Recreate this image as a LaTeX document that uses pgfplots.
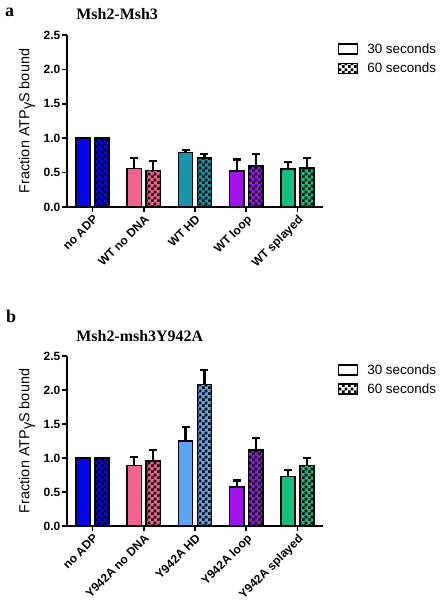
\documentclass[border=0pt]{standalone}
\usepackage{pgfplots}
\pgfplotsset{compat=1.18}
\usepackage{fontspec}
\setmainfont{Liberation Sans}
\newfontfamily\timesf{Liberation Serif}
\usetikzlibrary{patterns}
\pgfdeclarepatternformonly{bigcheck}{\pgfpointorigin}{\pgfqpoint{5.6bp}{5.6bp}}{\pgfqpoint{5.6bp}{5.6bp}}{%
 \pgfpathrectangle{\pgfpointorigin}{\pgfqpoint{2.85bp}{2.85bp}}%
 \pgfpathrectangle{\pgfqpoint{2.8bp}{2.8bp}}{\pgfqpoint{2.85bp}{2.85bp}}%
 \pgfusepath{fill}}
\definecolor{cblue}{HTML}{0505F0}
\definecolor{cpink}{HTML}{F2628E}
\definecolor{cteal}{HTML}{1A94AA}
\definecolor{cltblue}{HTML}{5AA5F5}
\definecolor{cpurple}{HTML}{A012F0}
\definecolor{cgreen}{HTML}{14C07E}

\pgfplotsset{
 every error bar/.append style={line width=2.2bp, black},
 mystyle/.style={
 scale only axis, width=256bp,
 xmin=-0.5, xmax=4.5, ymin=0, ymax=2.5,
 axis lines=left, axis line style={line width=1.6bp, -},
 ytick={0,0.5,1,1.5,2,2.5}, yticklabels={0.0,0.5,1.0,1.5,2.0,2.5},
 xtick={0,1,2,3,4},
 tick style={line width=1.6bp, black},
 major tick length=5bp, tick align=outside,
 tick label style={font=\bfseries\fontsize{12}{12}\selectfont},
 yticklabel style={inner sep=1.5bp},
 xticklabel style={rotate=45, anchor=north east, inner sep=1.5bp},
 ylabel={Fraction ATP\raisebox{-0.35ex}{γ}S bound},
 ylabel style={at={(axis description cs:-0.156,0.5)}, anchor=center, font=\fontsize{14.5}{14.5}\selectfont},
 title style={anchor=west, yshift=0pt, font=\timesf\bfseries\fontsize{16}{16}\selectfont},
 ybar,
 every axis plot/.append style={draw=black, line width=1.6bp, bar width=0.28, forget plot},
 legend style={draw=none, fill=none, at={(1.045,0.975)}, anchor=north west,
   font=\fontsize{13.5}{13.5}\selectfont, row sep=4bp},
}}

\pgfplotsset{errs/.style={error bars/.cd, y dir=plus, y explicit,
   error bar style={line width=2.2bp, black, solid},
   error mark options={rotate=90, mark size=4bp, line width=2.2bp, black, solid}}}

% x, color, v30, e30, v60, e60
\newcommand{\pair}[6]{%
 \addplot[fill=#2, bar shift=-0.185, errs] coordinates {(#1,#3) +- (0,#4)};
 \addplot[preaction={fill=#2}, pattern=bigcheck, pattern color=black, bar shift=0.185, errs] coordinates {(#1,#5) +- (0,#6)};
}
\newcommand{\pairnoerr}[4]{%
 \addplot[fill=#2, bar shift=-0.185] coordinates {(#1,#3)};
 \addplot[preaction={fill=#2}, pattern=bigcheck, pattern color=black, bar shift=0.185] coordinates {(#1,#4)};
}
\newcommand{\mylegend}{%
 \addlegendimage{legend image code/.code={\draw[line width=1.6bp, fill=white] (0bp,-5bp) rectangle (19bp,5bp);}}
 \addlegendentry{\hspace{7bp}30 seconds}
 \addlegendimage{legend image code/.code={\draw[line width=1.6bp, pattern=bigcheck, pattern color=black] (0bp,-5bp) rectangle (19bp,5bp);}}
 \addlegendentry{\hspace{7bp}60 seconds}
}

\begin{document}
\begin{tikzpicture}
\useasboundingbox (0,0) rectangle (447bp,-611bp);
\node[anchor=base west, inner sep=0pt, font=\timesf\bfseries\fontsize{18}{18}\selectfont] at (5bp,-16bp) {a};
\node[anchor=base west, inner sep=0pt, font=\timesf\bfseries\fontsize{18}{18}\selectfont] at (6bp,-322bp) {b};

\begin{axis}[mystyle, at={(67bp,-207bp)}, anchor=south west, height=172bp,
  title={Msh2-Msh3}, title style={at={(axis description cs:0.023,1.087)}},
  xticklabels={no ADP, WT no DNA, WT HD, WT loop, WT splayed}]
 \pairnoerr{0}{cblue}{1.0}{1.0}
 \pair{1}{cpink}{0.56}{0.15}{0.53}{0.14}
 \pair{2}{cteal}{0.79}{0.04}{0.71}{0.06}
 \pair{3}{cpurple}{0.52}{0.17}{0.60}{0.17}
 \pair{4}{cgreen}{0.55}{0.10}{0.57}{0.14}
 \mylegend
\end{axis}

\begin{axis}[mystyle, at={(67bp,-526bp)}, anchor=south west, height=170bp,
  title={Msh2-msh3Y942A}, title style={at={(axis description cs:0.023,1.082)}},
  xticklabels={no ADP, Y942A no DNA, Y942A HD, Y942A loop, Y942A splayed}]
 \pairnoerr{0}{cblue}{1.0}{1.0}
 \pair{1}{cpink}{0.89}{0.13}{0.96}{0.16}
 \pair{2}{cltblue}{1.25}{0.21}{2.08}{0.22}
 \pair{3}{cpurple}{0.57}{0.10}{1.12}{0.17}
 \pair{4}{cgreen}{0.73}{0.09}{0.89}{0.11}
 \mylegend
\end{axis}
\end{tikzpicture}
\end{document}
